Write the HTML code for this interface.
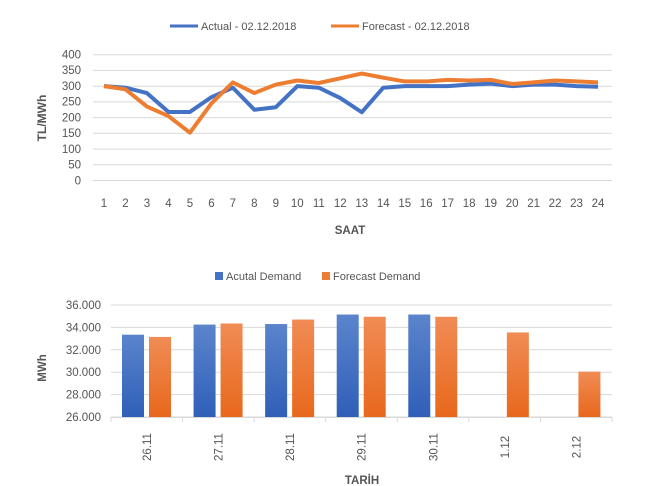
<!DOCTYPE html>
<html><head><meta charset="utf-8"><style>
body{margin:0;background:#fff;}
svg{display:block;font-family:"Liberation Sans",sans-serif;}
</style></head><body>
<svg width="645" height="486" viewBox="0 0 645 486" xmlns="http://www.w3.org/2000/svg">
<defs>
<linearGradient id="gb" x1="0" y1="0" x2="0" y2="1"><stop offset="0" stop-color="#5b84cc"/><stop offset="1" stop-color="#2f5fb8"/></linearGradient>
<linearGradient id="go" x1="0" y1="0" x2="0" y2="1"><stop offset="0" stop-color="#f08c55"/><stop offset="1" stop-color="#e8681c"/></linearGradient>
</defs>
<line x1="170" y1="26" x2="198" y2="26" stroke="#4472c4" stroke-width="3"/>
<text x="201" y="30" font-size="11" fill="#555">Actual - 02.12.2018</text>
<line x1="331" y1="26" x2="359" y2="26" stroke="#ed7d31" stroke-width="3"/>
<text x="362" y="30" font-size="11" fill="#555">Forecast - 02.12.2018</text>
<g stroke="#d9d9d9" stroke-width="1">
<line x1="93" x2="612" y1="54.7" y2="54.7"/><line x1="93" x2="612" y1="70.4" y2="70.4"/><line x1="93" x2="612" y1="86.2" y2="86.2"/><line x1="93" x2="612" y1="101.9" y2="101.9"/><line x1="93" x2="612" y1="117.6" y2="117.6"/><line x1="93" x2="612" y1="133.3" y2="133.3"/><line x1="93" x2="612" y1="149.1" y2="149.1"/><line x1="93" x2="612" y1="164.8" y2="164.8"/><line x1="93" x2="612" y1="180.5" y2="180.5"/>
</g>
<g font-size="11.5" fill="#555" text-anchor="end">
<text x="81" y="58.5">400</text><text x="81" y="74.2">350</text><text x="81" y="90">300</text><text x="81" y="105.7">250</text><text x="81" y="121.4">200</text><text x="81" y="137.1">150</text><text x="81" y="152.9">100</text><text x="81" y="168.6">50</text><text x="81" y="184.3">0</text>
</g>
<text transform="translate(46,118) rotate(-90)" font-size="12" font-weight="bold" fill="#555" text-anchor="middle">TL/MWh</text>
<g font-size="11.5" fill="#555" text-anchor="middle" id="xl"></g>
<text x="350" y="234" font-size="11.5" font-weight="bold" fill="#555" text-anchor="middle">SAAT</text>
<polyline id="pa" fill="none" stroke="#4472c4" stroke-width="4" stroke-linejoin="round"/>
<polyline id="pf" fill="none" stroke="#ed7d31" stroke-width="4" stroke-linejoin="round"/>
<rect x="215" y="272" width="8" height="8" fill="#4472c4"/>
<text x="226" y="280" font-size="11" fill="#555">Acutal Demand</text>
<rect x="322" y="272" width="8" height="8" fill="#ed7d31"/>
<text x="333" y="280" font-size="11" fill="#555">Forecast Demand</text>
<g stroke="#d9d9d9" stroke-width="1">
<line x1="111" x2="612" y1="305" y2="305"/><line x1="111" x2="612" y1="327.4" y2="327.4"/><line x1="111" x2="612" y1="349.8" y2="349.8"/><line x1="111" x2="612" y1="372.2" y2="372.2"/><line x1="111" x2="612" y1="394.6" y2="394.6"/><line x1="111" x2="612" y1="417" y2="417"/>
</g>
<g font-size="11.5" fill="#555" text-anchor="end">
<text x="101" y="309">36.000</text><text x="101" y="331.4">34.000</text><text x="101" y="353.8">32.000</text><text x="101" y="376.2">30.000</text><text x="101" y="398.6">28.000</text><text x="101" y="421">26.000</text>
</g>
<text transform="translate(46,368) rotate(-90)" font-size="11.5" font-weight="bold" fill="#555" text-anchor="middle">MWh</text>
<g id="bars"></g>
<text x="362" y="484" font-size="11.5" font-weight="bold" fill="#555" text-anchor="middle">TARİH</text>
</svg>
<script>
var ns="http://www.w3.org/2000/svg";
var A=[300,295,278,218,218,265,295,225,233,300,295,262,217,295,300,300,300,305,308,300,305,305,300,298];
var F=[300,290,235,205,152,245,312,278,305,318,310,325,340,327,315,315,320,318,320,307,312,318,315,312];
function X(i){return 104+i*21.48;} function Y(v){return 180.5-v*0.3145;}
var pa="",pf="",xl=document.getElementById("xl");
for(var i=0;i<24;i++){pa+=X(i)+","+Y(A[i])+" ";pf+=X(i)+","+Y(F[i])+" ";
var t=document.createElementNS(ns,"text");t.setAttribute("x",X(i));t.setAttribute("y",207);t.textContent=i+1;xl.appendChild(t);}
document.getElementById("pa").setAttribute("points",pa);
document.getElementById("pf").setAttribute("points",pf);
var BA=[33350,34250,34300,35150,35150,null,null],BF=[33150,34350,34700,34950,34950,33550,30050];
var L=["26.11","27.11","28.11","29.11","30.11","1.12","2.12"];
var g=document.getElementById("bars");
function BY(v){return 417-(v-26000)*0.0112;}
function el(n,a){var e=document.createElementNS(ns,n);for(var k in a)e.setAttribute(k,a[k]);g.appendChild(e);return e;}
el("line",{x1:111,x2:612,y1:417.5,y2:417.5,stroke:"#d9d9d9"});
for(var i=0;i<7;i++){var x0=111+i*71.57;
el("line",{x1:x0,x2:x0,y1:417,y2:422,stroke:"#d9d9d9"});
if(BA[i])el("rect",{x:x0+11,y:BY(BA[i]),width:22,height:417-BY(BA[i]),fill:"url(#gb)"});
el("rect",{x:x0+38,y:BY(BF[i]),width:22,height:417-BY(BF[i]),fill:"url(#go)"});
var t=el("text",{transform:"translate("+(x0+40)+",447) rotate(-90)","font-size":"11.5",fill:"#555","text-anchor":"middle"});t.textContent=L[i];}
el("line",{x1:612,x2:612,y1:417,y2:422,stroke:"#d9d9d9"});
</script>
</body></html>
